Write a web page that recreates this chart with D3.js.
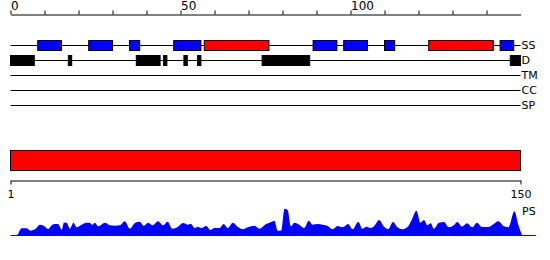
<!DOCTYPE html>
<html>
<head>
<meta charset="utf-8">
<script src="https://cdn.jsdelivr.net/npm/d3@7"></script>
<style>
  body { margin: 0; background: #fff; }
  text { font-family: "DejaVu Sans", sans-serif; fill: #000; }
</style>
</head>
<body>
<div id="chart"></div>
<script>
// Secondary structure segments (residue start, end, type)
const ssStart = [8, 23, 35, 48, 57, 89, 98, 110, 123, 144];
const ssEnd   = [15, 30, 38, 56, 76, 96, 105, 113, 142, 148];
const ssType  = ["E", "E", "E", "E", "H", "E", "E", "E", "H", "E"];

// Disorder segments
const disStart = [0, 17, 37, 45, 51, 55, 74, 147];
const disEnd   = [7, 18, 44, 46, 52, 56, 88, 150];

// Track names
const trackNames = ["SS", "D", "TM", "CC", "SP"];

// Top ruler ticks / labels
const rulerTicks = d3.range(0, 150, 10);
const rulerLabels = [0, 50, 100];

// Domain bar and bottom axis
const domainStart = 1, domainEnd = 150;
const seqLength = 150;

// PS profile: residue position and score
const psPos = [0, 1.9, 3.3, 4.8, 5.8, 7.2, 8.7, 10.2, 11.1, 12.1, 13.1, 14.0, 15.1, 15.7, 16.5, 17.5,
  18.5, 19.5, 20.9, 22.2, 23.1, 24.2, 24.8, 25.8, 27.8, 29.2, 30.7, 32.2, 33.6, 35.1, 36.6, 38.0,
  39.2, 40.5, 41.8, 43.4, 44.9, 46.2, 47.6, 49.3, 50.7, 52.2, 53.0, 54.2, 55.1, 56.1, 57.6, 58.8,
  60.0, 61.5, 62.7, 63.9, 65.4, 66.9, 68.3, 69.8, 71.8, 73.2, 75.2, 76.7, 77.6, 78.6, 79.6, 80.6,
  81.5, 82.5, 83.5, 84.9, 86.4, 87.7, 88.9, 90.3, 91.8, 93.3, 94.7, 96.2, 97.7, 99.3, 100.6, 102.3,
  103.5, 104.7, 106.0, 107.0, 108.4, 109.9, 111.1, 112.5, 113.8, 115.2, 116.7, 118.0, 119.4, 120.6,
  121.6, 122.6, 123.6, 124.5, 126.0, 127.5, 128.9, 130.4, 131.4, 132.8, 134.3, 135.8, 137.2, 138.7,
  140.6, 142.1, 143.5, 145.0, 146.5, 148.2, 149.4, 150.4];
const psVal = [0, 0, 6.7, 6.7, 4.3, 5.7, 10.3, 8.3, 5.7, 9.7, 11, 11, 5.3, 12.3, 12.3, 6.3,
  12.3, 7.7, 10.3, 12.3, 12.3, 10.3, 12.3, 8.7, 12.3, 9.7, 9.3, 9.7, 13.7, 6.3, 12, 13.3,
  9.3, 12.3, 9.7, 13.7, 9.7, 13.3, 6.3, 8.3, 12, 10.3, 11.3, 7, 8.3, 7, 9, 5,
  7, 7, 11, 7, 12.3, 8, 5.7, 7.7, 9.3, 6.3, 11, 13, 14.3, 4.3, 4.3, 26.3,
  25, 8.7, 12.3, 10.3, 7, 14.3, 10.3, 11, 10.3, 9, 5.7, 9, 7.7, 11, 5.7, 13,
  6.3, 8.3, 7, 9, 15, 8.3, 5.7, 13, 7.7, 5.7, 7.7, 15, 24.3, 12.3,
  15, 9.7, 11.7, 6.3, 12.3, 13, 7.7, 9.7, 13, 8.3, 11.7, 7.7, 12.3, 8,
  8, 11, 13.7, 9, 7.7, 23.7, 9.7, 0];
const psBaselineEnd = 154.5;

const width = 550, height = 260;
const trackTop = 45, trackStep = 15;

const svg = d3.select("#chart")
  .append("svg")
  .attr("width", width)
  .attr("height", height);

const x = d3.scaleLinear().domain([0, seqLength]).range([10.5, 520.5]);
const xRes = d3.scaleLinear().domain([domainStart, domainEnd]).range([10.5, 520.5]);
const y = d3.scaleLinear().domain([0, 30]).range([235, 205]);

// top ruler
const ruler = svg.append("g")
  .attr("transform", "translate(0,14.5)")
  .call(d3.axisTop(x)
    .tickValues(rulerTicks)
    .tickSize(4)
    .tickSizeOuter(0)
    .tickPadding(0.5)
    .tickFormat(d => rulerLabels.includes(d) ? d : ""));
ruler.selectAll("text")
  .attr("text-anchor", "start")
  .style("font-size", "12px")
  .style("font-family", "DejaVu Sans, sans-serif");
ruler.selectAll("line, path").attr("stroke", "#000");

// tracks
const trackY = d3.scalePoint().domain(trackNames).range([trackTop, trackTop + trackStep * 4]);

svg.append("g").selectAll("line")
  .data(trackNames)
  .join("line")
  .attr("x1", x(0)).attr("x2", x(seqLength))
  .attr("y1", d => trackY(d) + 0.5).attr("y2", d => trackY(d) + 0.5)
  .attr("stroke", "#000");

svg.append("g").selectAll("text")
  .data(trackNames)
  .join("text")
  .attr("x", x(seqLength) + 1)
  .attr("y", d => trackY(d) + 0.5)
  .attr("dy", "0.36em")
  .style("font-size", "11px")
  .text(d => d);

// secondary structure boxes
const ss = ssStart.map((s, i) => ({ start: s, end: ssEnd[i], type: ssType[i] }));
svg.append("g").selectAll("rect")
  .data(ss)
  .join("rect")
  .attr("x", d => x(d.start))
  .attr("width", d => x(d.end) - x(d.start))
  .attr("y", trackY("SS") - 4.5)
  .attr("height", 10)
  .attr("fill", d => d.type === "H" ? "#ff0000" : "#0000ff")
  .attr("stroke", "#000");

// disorder boxes
const dis = disStart.map((s, i) => ({ start: s, end: disEnd[i] }));
svg.append("g").selectAll("rect")
  .data(dis)
  .join("rect")
  .attr("x", d => x(d.start))
  .attr("width", d => x(d.end) - x(d.start))
  .attr("y", trackY("D") - 4.5)
  .attr("height", 10)
  .attr("fill", "#000")
  .attr("stroke", "#000");

// domain bar
svg.append("rect")
  .attr("x", xRes(domainStart))
  .attr("width", xRes(domainEnd) - xRes(domainStart))
  .attr("y", 150.5)
  .attr("height", 20)
  .attr("fill", "#ff0000")
  .attr("stroke", "#000");

// bottom residue axis
const bottom = svg.append("g")
  .attr("transform", "translate(0,180.5)")
  .call(d3.axisBottom(xRes)
    .tickValues([domainStart, domainEnd])
    .tickSize(4)
    .tickSizeOuter(0)
    .tickPadding(6));
bottom.selectAll("text")
  .style("font-size", "11px")
  .style("font-family", "DejaVu Sans, sans-serif");
bottom.selectAll("line, path").attr("stroke", "#000");

// PS profile
const ps = psPos.map((p, i) => ({ pos: p, val: psVal[i] }));
svg.append("path")
  .datum(ps)
  .attr("fill", "#0000ff")
  .attr("d", d3.area()
    .curve(d3.curveMonotoneX)
    .x(d => x(d.pos))
    .y0(y(0))
    .y1(d => y(d.val)));

svg.append("line")
  .attr("x1", x(0)).attr("x2", x(psBaselineEnd))
  .attr("y1", y(0) + 0.5).attr("y2", y(0) + 0.5)
  .attr("stroke", "#0000ff");

svg.append("text")
  .attr("x", x(seqLength) + 1.5)
  .attr("y", 215)
  .style("font-size", "11px")
  .text("PS");
</script>
</body>
</html>
